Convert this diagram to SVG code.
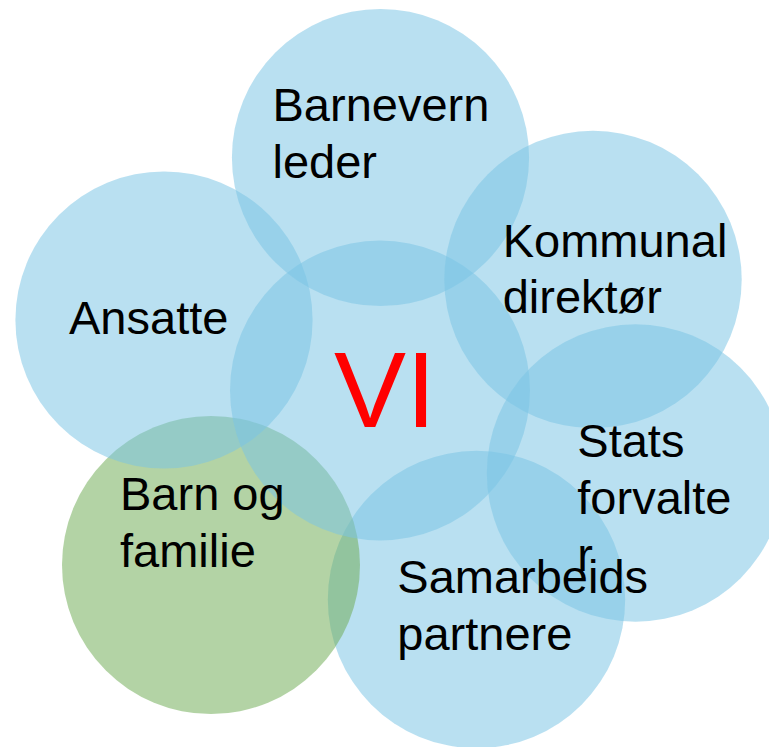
<svg xmlns="http://www.w3.org/2000/svg" width="769" height="747" viewBox="0 0 769 747">
  <style>
    .disc { fill: rgb(123,197,229); fill-opacity: 0.53; }
    .disc.green { fill: rgb(112,172,85); }
    .label { font-family: "Liberation Sans", Arial, sans-serif; font-size: 47px; fill: #000; }
    .core { font-family: "Liberation Sans", Arial, sans-serif; font-size: 108px; fill: #FF0000; }
  </style>
  <rect width="769" height="747" fill="#FFFFFF"/>

  <!-- Discs, stacked so the green one sits between the partner disc and the Ansatte/VI discs -->
  <g id="nodes">
    <g id="node-samarbeid"><circle class="disc" cx="476.5" cy="599.5" r="148.7"/></g>
    <g id="node-barn"><circle class="disc green" cx="211" cy="565" r="149"/></g>
    <g id="node-ansatte"><circle class="disc" cx="164" cy="320" r="148.6"/></g>
    <g id="node-vi"><circle class="disc" cx="380" cy="390.5" r="150"/></g>
    <g id="node-barnevern"><circle class="disc" cx="380.5" cy="157.5" r="148.6"/></g>
    <g id="node-kommunal"><circle class="disc" cx="593" cy="279.5" r="148.7"/></g>
    <g id="node-stats"><circle class="disc" cx="635.5" cy="473" r="148.7"/></g>
  </g>

  <!-- Labels kept above every disc -->
  <g id="labels">
    <text class="label" x="272.5"><tspan x="272.5" y="120.7">Barnevern</tspan><tspan x="272.5" y="178.3">leder</tspan></text>
    <text class="label" x="69" y="334.3">Ansatte</text>
    <text class="label"><tspan x="502.7" y="256.7">Kommunal</tspan><tspan x="502.7" y="313.3">direktør</tspan></text>
    <text class="core" x="334" y="426.7">VI</text>
    <text class="label"><tspan x="577.3" y="456.7">Stats</tspan><tspan x="577.3" y="514.3">forvalte</tspan><tspan x="577.3" y="571.3">r</tspan></text>
    <text class="label"><tspan x="120" y="510">Barn og</tspan><tspan x="120" y="566.7">familie</tspan></text>
    <text class="label"><tspan x="397.3" y="593.3">Samarbeids</tspan><tspan x="397.3" y="650">partnere</tspan></text>
  </g>
</svg>
